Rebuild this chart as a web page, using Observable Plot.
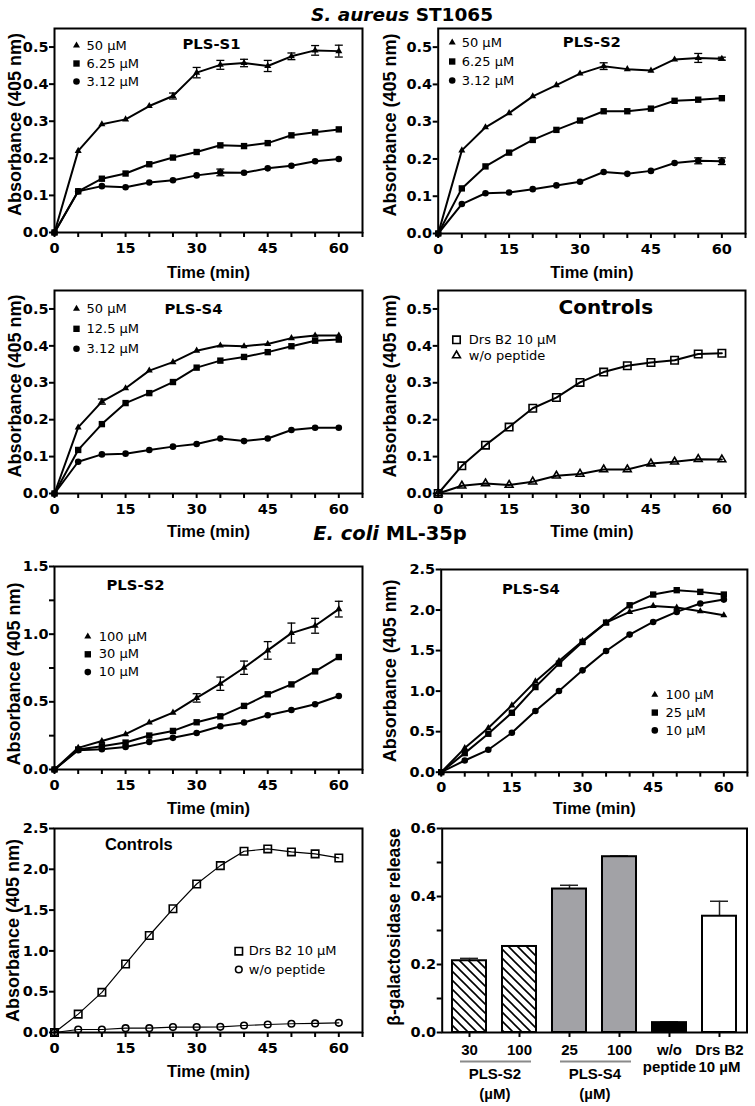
<!DOCTYPE html>
<html><head><meta charset="utf-8">
<script src="https://cdn.jsdelivr.net/npm/d3@7"></script>
<script src="https://cdn.jsdelivr.net/npm/@observablehq/plot@0.6"></script>
<style>
body{margin:0;background:#fff;}
#fig{position:relative;width:755px;height:1106px;overflow:hidden;background:#fff;}
.panel{position:absolute;}
.panel svg{overflow:visible;}
.title{position:absolute;font-family:"DejaVu Sans",sans-serif;font-weight:bold;line-height:20px;white-space:nowrap;transform:translateX(-50%);color:#000;}
</style></head><body>
<div id="fig">
  <div class="title" style="left:402px;top:5.3px;font-size:18.5px;"><i>S. aureus</i> ST1065</div>
  <div class="title" style="left:390px;top:524.3px;font-size:19.5px;"><i>E. coli</i> ML-35p</div>
</div>
<script>
// ---------- data ----------
const times = [0,5,10,15,20,25,30,35,40,45,50,55,60];
const xTicks = [0,5,10,15,20,25,30,35,40,45,50,55,60,65];

// S. aureus ST1065 — PLS-S1
const s1_50      = [0,0.220,0.292,0.305,0.341,0.368,0.431,0.452,0.457,0.449,0.475,0.491,0.489];
const s1_50_err  = [0,0,0,0,0,0.008,0.014,0.012,0.010,0.015,0.009,0.013,0.016];
const s1_625     = [0,0.111,0.145,0.159,0.184,0.202,0.217,0.235,0.233,0.241,0.262,0.270,0.278];
const s1_312     = [0,0.111,0.125,0.122,0.135,0.141,0.154,0.162,0.161,0.173,0.180,0.192,0.198];
const s1_312_err = [0,0,0,0,0,0,0,0.009,0,0,0,0,0];

// S. aureus ST1065 — PLS-S2
const s2_50      = [0,0.223,0.285,0.323,0.368,0.398,0.429,0.449,0.441,0.437,0.467,0.471,0.469];
const s2_50_err  = [0,0,0,0,0,0,0,0.009,0,0,0,0.012,0.004];
const s2_625     = [0,0.121,0.180,0.217,0.251,0.278,0.303,0.328,0.328,0.335,0.356,0.359,0.363];
const s2_312     = [0,0.079,0.108,0.110,0.119,0.129,0.139,0.165,0.160,0.168,0.189,0.195,0.194];
const s2_312_err = [0,0,0,0,0,0,0,0,0,0,0,0.008,0.009];

// S. aureus ST1065 — PLS-S4
const s4_50      = [0,0.179,0.249,0.285,0.333,0.356,0.387,0.401,0.399,0.405,0.421,0.428,0.428];
const s4_50_err  = [0,0,0.007,0,0,0,0,0,0,0,0,0,0];
const s4_125     = [0,0.118,0.188,0.245,0.272,0.302,0.341,0.360,0.370,0.383,0.399,0.414,0.417];
const s4_312     = [0,0.086,0.106,0.108,0.118,0.127,0.134,0.149,0.142,0.149,0.172,0.178,0.178];

// S. aureus ST1065 — Controls
const saDrs  = [0,0.075,0.131,0.180,0.231,0.260,0.301,0.329,0.346,0.355,0.361,0.378,0.380];
const saNone = [0,0.021,0.027,0.023,0.032,0.048,0.053,0.065,0.065,0.081,0.086,0.093,0.092];

// E. coli ML-35p — PLS-S2
const e2_100     = [0,0.160,0.211,0.261,0.347,0.420,0.529,0.634,0.752,0.880,1.008,1.062,1.185];
const e2_100_err = [0,0,0,0,0,0,0.031,0.049,0.049,0.065,0.074,0.055,0.058];
const e2_30      = [0,0.148,0.172,0.199,0.251,0.285,0.349,0.393,0.470,0.556,0.629,0.725,0.831];
const e2_10      = [0,0.143,0.150,0.167,0.204,0.234,0.270,0.320,0.347,0.401,0.440,0.482,0.543];

// E. coli ML-35p — PLS-S4
const e4_100 = [0,0.297,0.544,0.824,1.120,1.371,1.619,1.845,1.977,2.051,2.030,1.985,1.936];
const e4_25  = [0,0.235,0.474,0.733,1.050,1.339,1.606,1.845,2.059,2.191,2.245,2.224,2.191];
const e4_10  = [0,0.144,0.276,0.486,0.754,1.001,1.256,1.495,1.697,1.853,1.977,2.080,2.129];

// E. coli ML-35p — Controls
const ecDrs  = [0,0.225,0.492,0.840,1.189,1.516,1.820,2.045,2.221,2.250,2.213,2.189,2.139];
const ecNone = [0,0.037,0.037,0.053,0.053,0.066,0.066,0.070,0.086,0.098,0.107,0.111,0.119];

// β-galactosidase release
const barKeys   = ["PLS-S2 30","PLS-S2 100","PLS-S4 25","PLS-S4 100","w/o peptide","Drs B2 10 µM"];
const barTicks  = ["30","100","25","100","w/o\npeptide","Drs B2\n10 µM"];
const barKinds  = ["PLS-S2","PLS-S2","PLS-S4","PLS-S4","none","Drs B2"];
const barValues = [0.211,0.253,0.422,0.517,0.029,0.342];
const barErrors = [0.007,0.002,0.011,0.002,0.002,0.044];
const barGroups = [
  {first: "PLS-S2 30", second: "PLS-S2 100", label: "PLS-S2\n(µM)"},
  {first: "PLS-S4 25", second: "PLS-S4 100", label: "PLS-S4\n(µM)"}
];

// ---------- drawing ----------
const fig = document.getElementById("fig");
const TICKFONT = {fontFamily: "DejaVu Sans", fontWeight: "bold", fontSize: 14.5};
const LABELFONT = "Liberation Sans";
const capSymbol = {draw(ctx) { ctx.moveTo(-4, 0); ctx.lineTo(4, 0); }};

function place(svg, left, top) {
  const div = document.createElement("div");
  div.className = "panel";
  div.style.left = left + "px";
  div.style.top = top + "px";
  div.appendChild(svg);
  fig.appendChild(div);
}

function linePanel(p) {
  const svgLeft = p.col === 0 ? 0 : 378;
  const W = 377, mt = 12, mb = 52;
  const ml = p.frame.l - svgLeft;
  const mr = W - (p.frame.r - svgLeft);
  const H = (p.frame.b - p.frame.t) + mt + mb;
  const marks = [];
  p.series.forEach((s) => {
    const rows = times.map((t, i) => ({t, v: s.values[i], e: s.errors ? s.errors[i] : 0}));
    const er = rows.filter((d) => d.e > 0);
    marks.push(Plot.line(rows, {x: "t", y: "v", stroke: "black", strokeWidth: p.lineWidth}));
    marks.push(Plot.ruleX(er, {x: "t", y1: (d) => d.v - d.e, y2: (d) => d.v + d.e, stroke: "black", strokeWidth: 1.3}));
    marks.push(Plot.dot(er, {x: "t", y: (d) => d.v + d.e, symbol: capSymbol, r: 1, fill: "none", stroke: "black", strokeWidth: 1.3}));
    marks.push(Plot.dot(er, {x: "t", y: (d) => d.v - d.e, symbol: capSymbol, r: 1, fill: "none", stroke: "black", strokeWidth: 1.3}));
    marks.push(Plot.dot(rows, {x: "t", y: "v", symbol: s.symbol, r: s.r,
      fill: s.open ? "none" : "black", stroke: s.open ? "black" : "none", strokeWidth: 1.6}));
  });
  // legend
  p.series.forEach((s, i) => {
    const dy = p.legend.dy + i * p.legend.step;
    marks.push(Plot.dot([s.label], {frameAnchor: "top-left", dx: p.legend.dx, dy, symbol: s.symbol, r: s.r,
      fill: s.open ? "none" : "black", stroke: s.open ? "black" : "none", strokeWidth: 1.6}));
    marks.push(Plot.text([s.label], {frameAnchor: "top-left", dx: p.legend.dx + p.legend.textDx, dy, text: (d) => d,
      textAnchor: "start", lineAnchor: "middle", fontFamily: "DejaVu Sans", fontSize: 13}));
  });
  // panel title
  marks.push(Plot.text([p.title.text], {frameAnchor: "top", dx: p.title.dx, dy: p.title.dy, text: (d) => d,
    textAnchor: "middle", lineAnchor: "middle", fontWeight: "bold", fontSize: p.title.size, fontFamily: p.title.family}));
  // axes & frame
  marks.push(Plot.axisX({ticks: xTicks, tickSize: 5, tickPadding: 5, strokeWidth: 2,
    tickFormat: (d) => (d % 15 === 0 ? String(d) : ""), label: null, ...TICKFONT}));
  marks.push(Plot.axisY({ticks: p.yTicks, tickSize: 5, tickPadding: 1, strokeWidth: 2,
    tickFormat: p.yFormat, label: null, ...TICKFONT}));
  marks.push(Plot.frame({stroke: "black", strokeWidth: 2}));
  marks.push(Plot.text(["Time (min)"], {frameAnchor: "bottom", dy: p.xlabDy, text: (d) => d,
    textAnchor: "middle", lineAnchor: "middle", fontFamily: LABELFONT, fontWeight: "bold", fontSize: 16.5}));
  marks.push(Plot.text(["Absorbance (405 nm)"], {frameAnchor: "left", dx: p.ylabX - p.frame.l, dy: p.ylabDy, rotate: -90,
    text: (d) => d, textAnchor: "middle", lineAnchor: "middle", fontFamily: LABELFONT, fontWeight: "bold", fontSize: 18}));
  const svg = Plot.plot({
    width: W, height: H, marginLeft: ml, marginRight: mr, marginTop: mt, marginBottom: mb,
    x: {domain: [0, 65]}, y: {domain: p.yDomain},
    style: {background: "transparent", overflow: "visible", fontFamily: "DejaVu Sans", color: "black"},
    marks
  });
  place(svg, svgLeft, p.frame.t - mt);
}

const fmt1 = d3.format(".1f");
const saTicks = [0, 0.1, 0.2, 0.3, 0.4, 0.5];
const tri = "triangle", sq = "square", ci = "circle";

linePanel({col: 0, frame: {l: 54, t: 28, r: 362, b: 232}, yDomain: [0, 0.55], yTicks: saTicks, yFormat: fmt1,
  lineWidth: 2, ylabX: 14.5, ylabDy: -6, xlabDy: 40,
  title: {text: "PLS-S1", dx: 3, dy: 16, size: 14.8, family: "DejaVu Sans"},
  legend: {dx: 22, dy: 17, step: 18, textDx: 10},
  series: [
    {label: "50 µM", values: s1_50, errors: s1_50_err, symbol: tri, r: 2.6},
    {label: "6.25 µM", values: s1_625, symbol: sq, r: 3.6},
    {label: "3.12 µM", values: s1_312, errors: s1_312_err, symbol: ci, r: 3.3}
  ]});

linePanel({col: 1, frame: {l: 437.7, t: 28, r: 745, b: 233}, yDomain: [0, 0.55], yTicks: saTicks, yFormat: fmt1,
  lineWidth: 2, ylabX: 390, ylabDy: -6, xlabDy: 39,
  title: {text: "PLS-S2", dx: 0, dy: 14, size: 14.8, family: "DejaVu Sans"},
  legend: {dx: 14, dy: 14, step: 19, textDx: 9.5},
  series: [
    {label: "50 µM", values: s2_50, errors: s2_50_err, symbol: tri, r: 2.6},
    {label: "6.25 µM", values: s2_625, symbol: sq, r: 3.6},
    {label: "3.12 µM", values: s2_312, errors: s2_312_err, symbol: ci, r: 3.3}
  ]});

linePanel({col: 0, frame: {l: 54, t: 290, r: 362, b: 493}, yDomain: [0, 0.55], yTicks: saTicks, yFormat: fmt1,
  lineWidth: 2, ylabX: 14.5, ylabDy: -6, xlabDy: 38,
  title: {text: "PLS-S4", dx: -15, dy: 18.3, size: 14.8, family: "DejaVu Sans"},
  legend: {dx: 22, dy: 18.3, step: 20, textDx: 10},
  series: [
    {label: "50 µM", values: s4_50, errors: s4_50_err, symbol: tri, r: 2.6},
    {label: "12.5 µM", values: s4_125, symbol: sq, r: 3.6},
    {label: "3.12 µM", values: s4_312, symbol: ci, r: 3.3}
  ]});

linePanel({col: 1, frame: {l: 437.7, t: 290, r: 745, b: 493}, yDomain: [0, 0.55], yTicks: saTicks, yFormat: fmt1,
  lineWidth: 2, ylabX: 389.3, ylabDy: -6, xlabDy: 38,
  title: {text: "Controls", dx: 14, dy: 16.7, size: 20, family: "DejaVu Sans"},
  legend: {dx: 18.3, dy: 49.3, step: 15.7, textDx: 12.3},
  series: [
    {label: "Drs B2 10 µM", values: saDrs, symbol: sq, r: 4.2, open: true},
    {label: "w/o peptide", values: saNone, symbol: tri, r: 2.9, open: true}
  ]});

linePanel({col: 0, frame: {l: 54, t: 566, r: 362, b: 769}, yDomain: [0, 1.5],
  yTicks: [0, 0.25, 0.5, 0.75, 1, 1.25, 1.5], yFormat: (d) => (d % 0.5 === 0 ? fmt1(d) : ""),
  lineWidth: 2, ylabX: 13.3, ylabDy: 6, xlabDy: 39,
  title: {text: "PLS-S2", dx: -73, dy: 18.3, size: 14.8, family: "DejaVu Sans"},
  legend: {dx: 33.3, dy: 70, step: 17.8, textDx: 11},
  series: [
    {label: "100 µM", values: e2_100, errors: e2_100_err, symbol: tri, r: 2.6},
    {label: "30 µM", values: e2_30, symbol: sq, r: 3.6},
    {label: "10 µM", values: e2_10, symbol: ci, r: 3.3}
  ]});

linePanel({col: 1, frame: {l: 440.7, t: 569, r: 746.9, b: 771.7}, yDomain: [0, 2.5],
  yTicks: [0, 0.5, 1, 1.5, 2, 2.5], yFormat: fmt1,
  lineWidth: 2, ylabX: 389.3, ylabDy: 0, xlabDy: 37,
  title: {text: "PLS-S4", dx: -63.4, dy: 19.3, size: 14.8, family: "DejaVu Sans"},
  legend: {dx: 213.6, dy: 125.3, step: 17.8, textDx: 10.7},
  series: [
    {label: "100 µM", values: e4_100, symbol: tri, r: 2.6},
    {label: "25 µM", values: e4_25, symbol: sq, r: 3.6},
    {label: "10 µM", values: e4_10, symbol: ci, r: 3.3}
  ]});

linePanel({col: 0, frame: {l: 54, t: 828, r: 362, b: 1032}, yDomain: [0, 2.5],
  yTicks: [0, 0.5, 1, 1.5, 2, 2.5], yFormat: fmt1,
  lineWidth: 1.2, ylabX: 12.5, ylabDy: 0, xlabDy: 39,
  title: {text: "Controls", dx: -69.7, dy: 16, size: 16.5, family: LABELFONT},
  legend: {dx: 184.3, dy: 122.7, step: 18.3, textDx: 10},
  series: [
    {label: "Drs B2 10 µM", values: ecDrs, symbol: sq, r: 4.2, open: true},
    {label: "w/o peptide", values: ecNone, symbol: ci, r: 3.3, open: true}
  ]});

// ---------- bar panel ----------
(function barPanel() {
  const frame = {l: 441.7, t: 828, r: 746.5, b: 1032};
  const svgLeft = 378, W = 377, mt = 12, mb = 74;
  const ml = frame.l - svgLeft, mr = W - (frame.r - svgLeft);
  const H = (frame.b - frame.t) + mt + mb;
  const bars = barKeys.map((k, i) => ({key: k, value: barValues[i], err: barErrors[i], kind: barKinds[i]}));
  const tickLabel = new Map(barKeys.map((k, i) => [k, barTicks[i]]));
  const step = (frame.r - frame.l) / barKeys.length;
  const svg = Plot.plot({
    width: W, height: H, marginLeft: ml, marginRight: mr, marginTop: mt, marginBottom: mb,
    x: {domain: barKeys, paddingInner: 0.33, paddingOuter: 0.165},
    y: {domain: [0, 0.6]},
    color: {type: "ordinal", domain: ["PLS-S2", "PLS-S4", "none", "Drs B2"],
            range: ["url(#hatchBars)", "#a2a2a6", "#000000", "#ffffff"]},
    style: {background: "transparent", overflow: "visible", fontFamily: "DejaVu Sans", color: "black"},
    marks: [
      Plot.ruleX(bars, {x: "key", y1: "value", y2: (d) => d.value + d.err, stroke: "#222", strokeWidth: 1.5}),
      Plot.tickY(bars, {x: "key", y: (d) => d.value + d.err, stroke: "#222", strokeWidth: 1.5, insetLeft: 8, insetRight: 8}),
      Plot.barY(bars, {x: "key", y: "value", fill: "kind", stroke: "black", strokeWidth: 2}),
      Plot.axisX({tickSize: 5, tickPadding: 6, strokeWidth: 2, tickFormat: (d) => tickLabel.get(d), label: null,
        fontFamily: LABELFONT, fontWeight: "bold", fontSize: 15, lineHeight: 1.12}),
      Plot.axisY({ticks: [0, 0.1, 0.2, 0.3, 0.4, 0.5, 0.6], tickSize: 5, tickPadding: 1, strokeWidth: 2,
        tickFormat: (d) => (Math.round(d * 10) % 2 === 0 ? fmt1(d) : ""), label: null, ...TICKFONT}),
      Plot.frame({stroke: "black", strokeWidth: 2}),
      Plot.ruleY(barGroups, {x1: "first", x2: "second", y: () => 0, dy: 29, insetLeft: 8, insetRight: 5,
        stroke: "#8a8a8a", strokeWidth: 2}),
      Plot.text(barGroups, {x: "first", frameAnchor: "bottom", dx: step / 2, dy: 33, text: "label",
        textAnchor: "middle", lineAnchor: "top", lineHeight: 1.3, fontFamily: LABELFONT, fontWeight: "bold", fontSize: 15}),
      Plot.text(["β-galactosidase release"], {frameAnchor: "left", dx: 394 - frame.l, dy: -3.5, rotate: -90,
        text: (d) => d, textAnchor: "middle", lineAnchor: "middle", fontFamily: LABELFONT, fontWeight: "bold", fontSize: 17.5})
    ]
  });
  d3.select(svg).insert("defs", ":first-child").html(
    '<pattern id="hatchBars" patternUnits="userSpaceOnUse" width="9" height="9">' +
    '<rect width="9" height="9" fill="white"/>' +
    '<path d="M-1,8 l2,2 M0,0 l9,9 M8,-1 l2,2" stroke="black" stroke-width="1.6"/></pattern>');
  place(svg, svgLeft, frame.t - mt);
})();
</script>
</body></html>
